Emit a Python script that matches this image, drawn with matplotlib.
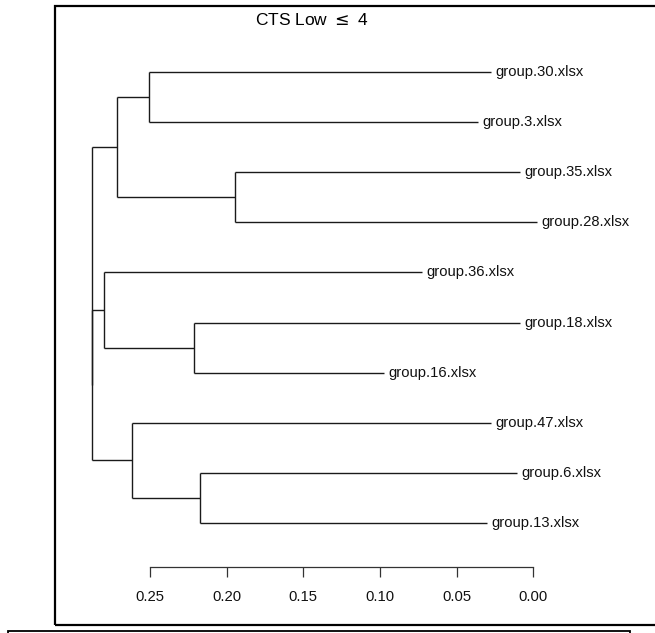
import matplotlib
matplotlib.use("Agg")
import matplotlib.pyplot as plt
from matplotlib.patches import Rectangle

plt.rcParams["font.family"] = ["Liberation Sans", "DejaVu Sans"]

# ── Dendrogram data ──────────────────────────────────────────────────────────
LABELS = ["group.30.xlsx", "group.3.xlsx", "group.35.xlsx", "group.28.xlsx",
          "group.36.xlsx", "group.18.xlsx", "group.16.xlsx", "group.47.xlsx",
          "group.6.xlsx", "group.13.xlsx"]
LEAF_HEIGHT = [0.0276, 0.0361, 0.0087, -0.0025, 0.0726,
               0.0087, 0.0977, 0.0276, 0.0106, 0.0305]
# merges: (child_a, child_b, height); leaves are 0..9, new nodes get 10, 11, ...
MERGES = [
    (0, 1, 0.2505),
    (2, 3, 0.1943),
    (10, 11, 0.2713),
    (5, 6, 0.2211),
    (4, 13, 0.2802),
    (8, 9, 0.2172),
    (7, 15, 0.2617),
    (14, 16, 0.2879),
    (12, 17, 0.2879),
]
TICKS = [0.25, 0.20, 0.15, 0.10, 0.05, 0.00]
TITLE = r"CTS Low $\leq$ 4"

W, H = 655, 633
LINE = "#1a1a1a"

fig = plt.figure(figsize=(W / 100, H / 100), dpi=100)

# plot region in pixels: left 55, right 640, top 20, bottom 567
L, R, T, B = 55, 640, 20, 567
ax = fig.add_axes([L / W, 1 - B / H, (R - L) / W, (B - T) / H])
ax.set_xlim(0.3120, -0.0696)
ax.set_ylim(9.880, -1.038)

# ── Draw tree ────────────────────────────────────────────────────────────────
node_h = list(LEAF_HEIGHT)
node_y = list(range(len(LABELS)))
for a, b, h in MERGES:
    ya, yb = node_y[a], node_y[b]
    ax.plot([h, h], [ya, yb], color=LINE, lw=1.0, solid_capstyle="butt")
    ax.plot([h, node_h[a]], [ya, ya], color=LINE, lw=1.0, solid_capstyle="butt")
    ax.plot([h, node_h[b]], [yb, yb], color=LINE, lw=1.0, solid_capstyle="butt")
    node_h.append(h)
    node_y.append((ya + yb) / 2)

for i, lab in enumerate(LABELS):
    ax.annotate(lab, (LEAF_HEIGHT[i], i), xytext=(3.2, 0), textcoords="offset points",
                ha="left", va="center", fontsize=10.6, color="#111111")

# ── Axis (R style) ───────────────────────────────────────────────────────────
for side in ("top", "right", "left"):
    ax.spines[side].set_visible(False)
ax.spines["bottom"].set_bounds(TICKS[0], TICKS[-1])
ax.spines["bottom"].set_color("#333333")
ax.spines["bottom"].set_linewidth(0.9)
ax.set_xticks(TICKS)
ax.set_xticklabels([f"{t:.2f}" for t in TICKS])
ax.tick_params(axis="x", direction="out", length=7.2, width=0.9, color="#333333",
               pad=9.5, labelsize=10.7, labelcolor="#111111")
ax.set_yticks([])
ax.patch.set_visible(False)

fig.text(312 / W, 1 - 20 / H, TITLE, ha="center", va="center", fontsize=12.5)

# figure frames
fig.add_artist(Rectangle((L / W, 1 - 625 / H), 1.05, (625 - 6) / H,
                         transform=fig.transFigure, fill=False,
                         ec="black", lw=1.6, clip_on=False))
fig.add_artist(Rectangle((8 / W, -0.05), (630 - 8) / W, 0.05 + (633 - 631) / H,
                         transform=fig.transFigure, fill=False,
                         ec="black", lw=1.3, clip_on=False))

fig.savefig("out.png", dpi=100)
